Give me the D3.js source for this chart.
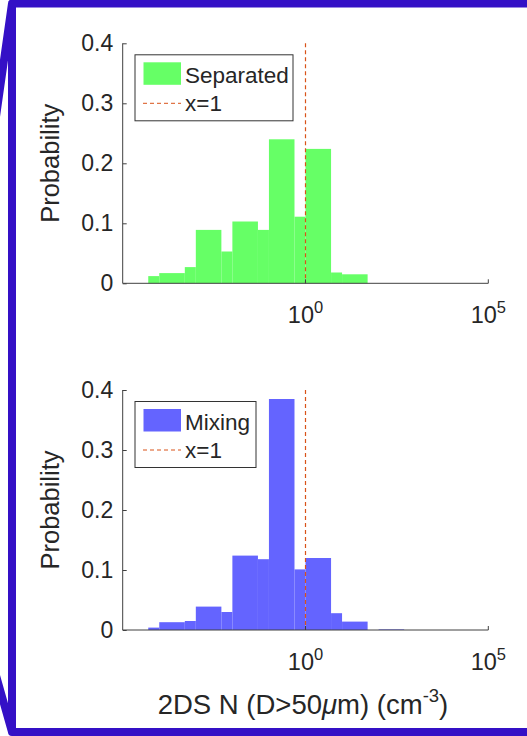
<!DOCTYPE html>
<html>
<head>
<meta charset="utf-8">
<script src="https://cdn.jsdelivr.net/npm/d3@7"></script>
<style>
  body { margin: 0; background: #fff; }
  svg text { font-family: "Liberation Sans", Arial, Helvetica, sans-serif; fill: #262626; }
</style>
</head>
<body>
<div id="chart"></div>
<script>
// histogram bins (log spaced, 1-5-10 edges) and probabilities
var binEdges = [5e-5, 1e-4, 5e-4, 1e-3, 5e-3, 1e-2, 5e-2, 0.1, 0.5, 1, 5, 10, 50, 100, 500];
var separatedProb = [0.012, 0.017, 0.027, 0.089, 0.053, 0.103, 0.089, 0.240, 0.111, 0.224, 0.018, 0.015, 0, 0];
var mixingProb = [0.004, 0.013, 0.015, 0.039, 0.030, 0.124, 0.118, 0.385, 0.101, 0.120, 0.028, 0.014, 0, 0.001];
var yTicks = [0, 0.1, 0.2, 0.3, 0.4];
var xTickExponents = [0, 5];
var refLine = 1;

var W = 527, H = 736;
var axLeft = 122.7, axRight = 488.3;

var svg = d3.select("#chart").append("svg")
    .attr("width", W)
    .attr("height", H);

svg.append("rect").attr("width", W).attr("height", H).attr("fill", "#fff");

// callout frame
var frameColor = "#3410c6";
svg.append("path")
    .attr("d", "M-20,230 L12,3.5 L530,3.5 M12,3.5 L12,732 L530,732 M12,732 L-5,672")
    .attr("fill", "none")
    .attr("stroke", frameColor)
    .attr("stroke-width", 8)
    .attr("stroke-linejoin", "round")
    .attr("stroke-linecap", "round");

var xScale = d3.scaleLog().domain([1e-5, 1e5]).range([axLeft, axRight]);

function drawPanel(yTop, yBottom, values, color, name, legendW) {
  var yScale = d3.scaleLinear().domain([0, 0.4]).range([yBottom, yTop]);
  var g = svg.append("g");

  var bins = values.map(function(v, i) {
    return {x0: binEdges[i], x1: binEdges[i + 1], p: v};
  });

  g.selectAll(".bar")
      .data(bins.filter(function(d) { return d.p > 0; }))
    .enter().append("rect")
      .attr("class", "bar")
      .attr("x", function(d) { return xScale(d.x0); })
      .attr("width", function(d) { return xScale(d.x1) - xScale(d.x0); })
      .attr("y", function(d) { return yScale(d.p); })
      .attr("height", function(d) { return yBottom - yScale(d.p); })
      .attr("fill", color);

  // x=1 reference line
  g.append("line")
      .attr("x1", xScale(refLine)).attr("x2", xScale(refLine))
      .attr("y1", yTop).attr("y2", yBottom)
      .attr("stroke", "#d95319")
      .attr("stroke-width", 1.2)
      .attr("stroke-dasharray", "4,3");

  // y axis (MATLAB style: ticks inward)
  var yAxis = d3.axisLeft(yScale)
      .tickValues(yTicks)
      .tickSize(-4)
      .tickPadding(10)
      .tickFormat(function(d) { return d === 0 ? "0" : d3.format(".1f")(d); });
  var ya = g.append("g")
      .attr("transform", "translate(" + axLeft + ",0)")
      .call(yAxis);
  ya.select(".domain").attr("d", "M0," + yTop + "V" + yBottom);
  ya.selectAll("line, path").attr("stroke", "#404040");
  ya.selectAll("text")
      .attr("fill", "#262626")
      .style("font-size", "23px")
      .attr("x", -9.5);

  // x axis
  var xa = g.append("g")
      .attr("transform", "translate(0," + yBottom + ")");
  xa.append("line")
      .attr("x1", axLeft).attr("x2", axRight)
      .attr("stroke", "#404040");
  xTickExponents.forEach(function(e) {
    var xp = xScale(Math.pow(10, e));
    xa.append("line")
        .attr("x1", xp).attr("x2", xp)
        .attr("y1", 0).attr("y2", -4)
        .attr("stroke", "#404040");
    var t = xa.append("text")
        .attr("x", xp)
        .attr("y", 40)
        .attr("text-anchor", "middle")
        .style("font-size", "23.5px");
    t.append("tspan").text("10");
    t.append("tspan").attr("dy", -10.5).style("font-size", "16.5px").text(e);
  });

  // y label
  g.append("text")
      .attr("transform", "translate(59," + (yTop + yBottom) / 2 + ") rotate(-90)")
      .attr("text-anchor", "middle")
      .style("font-size", "25.5px")
      .text("Probability");

  // legend
  var lx = 135, ly = yTop + 11.5;
  var lg = g.append("g");
  lg.append("rect")
      .attr("x", lx).attr("y", ly)
      .attr("width", legendW).attr("height", 66)
      .attr("fill", "#fff")
      .attr("stroke", "#333")
      .attr("stroke-width", 1);
  lg.append("rect")
      .attr("x", lx + 8.5).attr("y", ly + 7.5)
      .attr("width", 37.5).attr("height", 22.5)
      .attr("fill", color);
  lg.append("text")
      .attr("x", lx + 50).attr("y", ly + 28)
      .style("font-size", "22.5px")
      .text(name);
  lg.append("line")
      .attr("x1", lx + 8).attr("x2", lx + 46)
      .attr("y1", ly + 48.5).attr("y2", ly + 48.5)
      .attr("stroke", "#d95319")
      .attr("stroke-dasharray", "4,3");
  lg.append("text")
      .attr("x", lx + 50).attr("y", ly + 56)
      .style("font-size", "22.5px")
      .text("x=1");
}

drawPanel(43.3, 283.3, separatedProb, "#66ff66", "Separated", 158);
drawPanel(390, 630, mixingProb, "#6464ff", "Mixing", 121);

// x axis title
var xt = svg.append("text")
    .attr("x", 303)
    .attr("y", 714)
    .attr("text-anchor", "middle")
    .style("font-size", "27.5px");
xt.append("tspan").text("2DS N (D>50");
xt.append("tspan").style("font-style", "italic").text("\u03bc");
xt.append("tspan").text("m) (cm");
xt.append("tspan").attr("dy", -12).style("font-size", "18.5px").text("-3");
xt.append("tspan").attr("dy", 12).text(")");
</script>
</body>
</html>
